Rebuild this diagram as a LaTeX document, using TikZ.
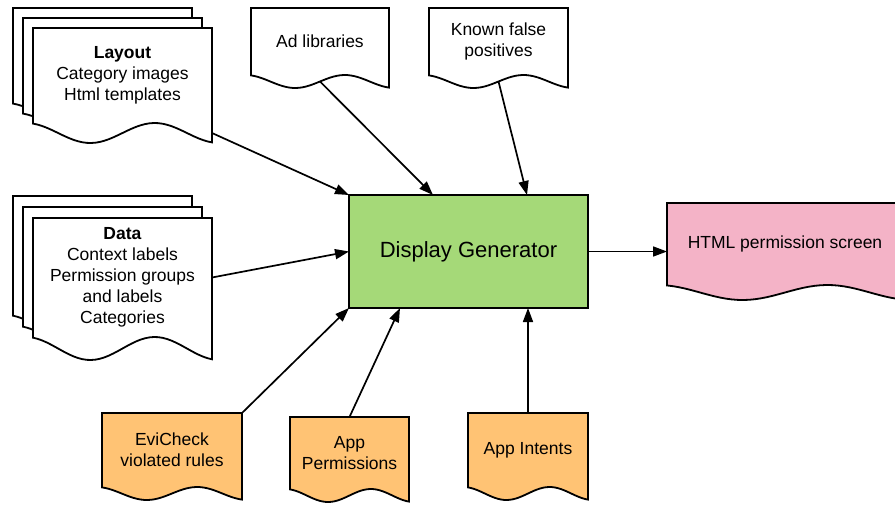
\documentclass[tikz,border=0pt]{standalone}
\usepackage{fontspec}
\setmainfont{Liberation Sans}
\usetikzlibrary{arrows.meta,calc}
\definecolor{gengreen}{HTML}{A5D978}
\definecolor{outpink}{HTML}{F4B3C7}
\definecolor{inorange}{HTML}{FFC374}
\newcommand{\docfont}{\fontsize{17.5}{21}\selectfont}
% #1 name, #2 x0, #3 y0 (top), #4 width, #5 height (to right end), #6 wave depth, #7 fill, #8 text
\newcommand{\docshape}[8]{%
  \draw[docline, fill=#7] ({#2+#4},#3) -- (#2,#3) --
    plot[domain=0:1, samples=41] ({#2+\x*#4},{#3+#5-(#6/2)*(1-cos(180*(\x-0.32)/0.36))}) -- cycle;
  \node[inner sep=0, outer sep=0, minimum width=#4pt, minimum height={(#5-#6/2)*1pt}]
    (#1) at ({#2+#4/2},{#3+(#5-#6/2)/2}) {};
  \node[inner sep=0, outer sep=0, minimum width=#4pt, align=center, font=\docfont]
    (#1-t) at ({#2+#4/2},{#3+(#5-#6)/2}) {#8};
}
\begin{document}
\begin{tikzpicture}[x=1pt, y=-1pt,
  docline/.style={draw=black, line width=1.8pt, line join=miter},
  arr/.style={line width=1.7pt, -{Triangle[length=14pt, width=10pt]}},
  genbox/.style={draw=black, line width=1.8pt, fill=gengreen, inner sep=0, outer sep=0,
    minimum width=239pt, minimum height=113pt, font=\fontsize{22}{26}\selectfont}]
\useasboundingbox (0,0) rectangle (895,504);
\clip (0,0) rectangle (895,504);
\fill[white] (0,0) rectangle (895,504);

% Layout stack
\docshape{lay3}{13}{8}{179}{115}{20}{white}{}
\docshape{lay2}{23}{18}{179}{115}{20}{white}{}
\docshape{lay}{33}{28}{179}{115}{20}{white}{\textbf{Layout}\\Category images\\Html templates}

% Data stack
\docshape{data3}{13}{196}{179}{142}{23}{white}{}
\docshape{data2}{23}{207}{179}{142}{23}{white}{}
\docshape{data}{33}{218}{179}{142}{23}{white}{\textbf{Data}\\Context labels\\Permission groups\\and labels\\Categories}

% Top documents
\docshape{ad}{251}{8}{138}{80}{13}{white}{Ad libraries}
\docshape{kfp}{429}{8}{139}{80}{13}{white}{Known false\\positives}

% Output
\docshape{html}{667}{203}{236}{97}{15}{outpink}{HTML permission screen}

% Bottom inputs
\docshape{evi}{102}{413}{140}{87}{13}{inorange}{EviCheck\\violated rules}
\docshape{perm}{290}{417}{119}{85}{13}{inorange}{App\\Permissions}
\docshape{intents}{468}{413}{120}{87}{13}{inorange}{App Intents}

% Generator
\node[genbox] (gen) at (468.5,251.5) {Display Generator};

% Connectors
\draw[arr] (lay.south east) -- (gen.north west);
\draw[arr] (ad.south) -- ([xshift=84pt]gen.north west);
\draw[arr] (kfp.south) -- ([xshift=178pt]gen.north west);
\draw[arr] (data-t.east) -- (gen.west);
\draw[arr] (evi.north east) -- (gen.south west);
\draw[arr] (perm.north) -- ([xshift=51pt]gen.south west);
\draw[arr] (intents.north) -- (intents.north |- gen.south);
\draw[arr] (gen.east) -- (gen.east -| html.west);
\end{tikzpicture}
\end{document}
